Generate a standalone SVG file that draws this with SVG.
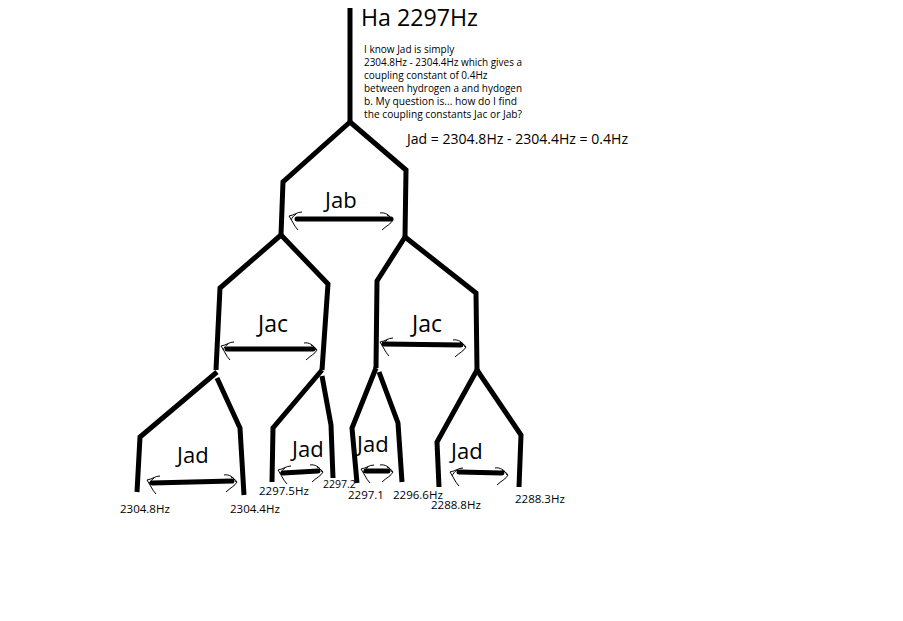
<svg xmlns="http://www.w3.org/2000/svg" width="903" height="621" viewBox="0 0 903 621">
<style>
.t{fill:none;stroke:#000;stroke-width:5;stroke-linejoin:miter;stroke-linecap:butt}
.a{fill:none;stroke:#000;stroke-width:5;stroke-linecap:round}
.h{fill:none;stroke:#000;stroke-width:1}
.big{font-family:"Open Sans","Liberation Sans",sans-serif;fill:#000}
.sm{font-family:"Open Sans","Liberation Sans",sans-serif;fill:#000;font-size:10px}
.v{font-family:"Open Sans","Liberation Sans",sans-serif;fill:#000;font-size:11.5px}
</style>
<defs>
<path id="hl" class="h" d="M13,-6 C8,-6 6,-3 0,-2 C3,2 5,8 9,12 M7,-4 C4,-2 3,0 2,2"/>
<path id="hr" class="h" d="M-13,-6 C-8,-7 -4,-4 0,1 C-2,5 -7,7 -11,11 M-6,-4 C-3,-3 -2,-1 -1,1"/>
</defs>
<rect width="903" height="621" fill="#fff"/>
<g id="tree">
<path class="t" d="M350,8 L350,122"/>
<path class="t" d="M350,122 L283,182 L281,235"/>
<path class="t" d="M350,122 L406,170 L405,237"/>
<path class="t" d="M281,235 L220,288 L216,370"/>
<path class="t" d="M281,235 L328,284 L322,370"/>
<path class="t" d="M405,237 L377,281 L376,368"/>
<path class="t" d="M405,237 L476,293 L477,370"/>
<path class="t" d="M217,372 L140,437 L137,492"/>
<path class="t" d="M217,378 L240,428 L244,495"/>
<path class="t" d="M322,370 L273,428 L272,482"/>
<path class="t" d="M322,376 L331,425 L333,478"/>
<path class="t" d="M376,368 L352,428 L357,483"/>
<path class="t" d="M379,372 L398,423 L402,482"/>
<path class="t" d="M477,370 L437,442 L439,487"/>
<path class="t" d="M477,370 L521,435 L519,487"/>
</g>
<g id="connectors">
<path class="a" d="M297,219 L391,219"/>
<use href="#hl" x="289" y="218"/><use href="#hr" x="393" y="219"/>
<path class="a" d="M227,349 L313,349"/>
<use href="#hl" x="221" y="348"/><use href="#hr" x="317" y="349"/>
<path class="a" d="M384,344 L461,345"/>
<use href="#hl" x="380" y="344"/><use href="#hr" x="466" y="346"/>
<path class="a" d="M152,483 L232,481"/>
<use href="#hl" x="147" y="482"/><use href="#hr" x="237" y="481"/>
<path class="a" d="M283,473 L318,471"/>
<use href="#hl" x="278" y="472"/><use href="#hr" x="323" y="471"/>
<path class="a" d="M366,471 L388,471"/>
<use href="#hl" x="361" y="471"/><use href="#hr" x="393" y="471"/>
<path class="a" d="M459,472 L502,473"/>
<use href="#hl" x="450" y="474"/><use href="#hr" x="508" y="474"/>
</g>
<g id="title">
<text class="big" x="361" y="26" font-size="23" textLength="117" lengthAdjust="spacingAndGlyphs">Ha 2297Hz</text>
</g>
<g id="note">
<text class="sm" x="364" y="53">I know Jad is simply</text>
<text class="sm" x="364" y="66" textLength="158" lengthAdjust="spacingAndGlyphs">2304.8Hz - 2304.4Hz which gives a</text>
<text class="sm" x="364" y="79">coupling constant of 0.4Hz</text>
<text class="sm" x="364" y="92" textLength="158" lengthAdjust="spacingAndGlyphs">between hydrogen a and hydogen</text>
<text class="sm" x="364" y="105" textLength="153" lengthAdjust="spacingAndGlyphs">b. My question is... how do I find</text>
<text class="sm" x="364" y="118" textLength="158" lengthAdjust="spacingAndGlyphs">the coupling constants Jac or Jab?</text>
<text class="big" x="407" y="144" font-size="14" textLength="221" lengthAdjust="spacingAndGlyphs">Jad = 2304.8Hz - 2304.4Hz = 0.4Hz</text>
</g>
<g id="labels">
<text class="big" x="325" y="208" font-size="22">Jab</text>
<text class="big" x="258" y="332" font-size="23">Jac</text>
<text class="big" x="412" y="332" font-size="23">Jac</text>
<text class="big" x="177" y="463" font-size="22">Jad</text>
<text class="big" x="292" y="457" font-size="22">Jad</text>
<text class="big" x="357" y="452" font-size="22">Jad</text>
<text class="big" x="451" y="459" font-size="22">Jad</text>
</g>
<g id="values">
<text class="v" x="120" y="513">2304.8Hz</text>
<text class="v" x="230" y="513">2304.4Hz</text>
<text class="v" x="259" y="495">2297.5Hz</text>
<text class="v" x="323" y="488" style="font-size:10.5px">2297.2</text>
<text class="v" x="348" y="499">2297.1</text>
<text class="v" x="393" y="499">2296.6Hz</text>
<text class="v" x="431" y="509">2288.8Hz</text>
<text class="v" x="515" y="503">2288.3Hz</text>
</g>
</svg>
